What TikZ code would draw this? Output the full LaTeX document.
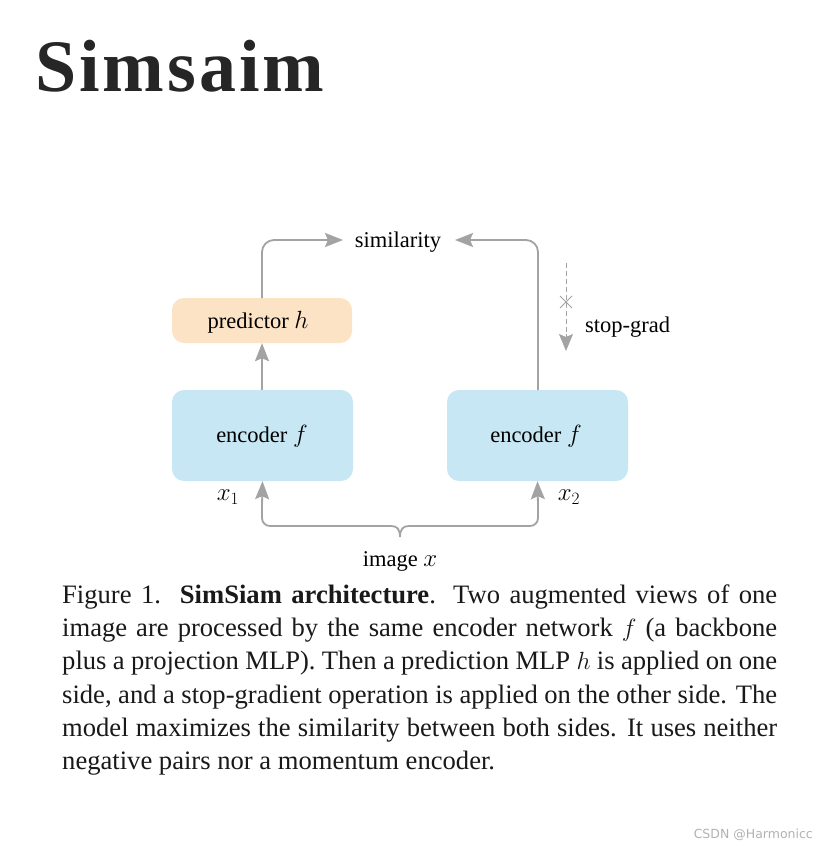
\documentclass[tikz,border=0pt]{standalone}
\usepackage{fontspec}
\setmainfont{Liberation Serif}
\newfontfamily\wmfont{DejaVu Sans}
\usetikzlibrary{arrows.meta}
\definecolor{boxblue}{HTML}{C6E7F3}
\definecolor{boxorange}{HTML}{FCE3C6}
\definecolor{linegray}{HTML}{A3A3A3}
\definecolor{titlegray}{HTML}{262626}
\newcommand\lblmath[1]{{\fontsize{26}{28}\selectfont$#1$}}
\tikzset{
  box/.style={rounded corners=12pt, draw=none, inner sep=0pt},
  lbl/.style={font=\fontsize{22.5}{26}\selectfont, text=black, inner sep=0pt},
  conn/.style={draw=linegray, line width=1.8pt},
  arr/.style={conn, -{Stealth[length=18pt,width=14pt,inset=3pt]}},
  capline/.style={anchor=base west, inner sep=0pt, font=\fontsize{26.6}{33}\selectfont, text=black!90}
}
\begin{document}
\begin{tikzpicture}[x=1pt,y=-1pt]
\useasboundingbox (0,0) rectangle (834,848);
\fill[white] (0,0) rectangle (834,848);
% title
\node[anchor=base west, inner sep=0pt, text=titlegray, font=\fontsize{74}{80}\selectfont\bfseries\addfontfeatures{LetterSpace=4}] (title) at (35,92) {Simsaim};
% boxes
\node[box, fill=boxorange, minimum width=180pt, minimum height=45pt] (pred) at (262,320.5) {};
\node[lbl, anchor=base] at (258,328) {predictor \lblmath{h}};
\node[box, fill=boxblue, minimum width=181pt, minimum height=91pt] (enc1) at (262.5,435.5) {};
\node[lbl, anchor=base] at (262,442) {encoder \lblmath{f}};
\node[box, fill=boxblue, minimum width=181pt, minimum height=91pt] (enc2) at (537.5,435.5) {};
\node[lbl, anchor=base] at (536,442) {encoder \lblmath{f}};
% similarity
\node[lbl, anchor=base] (sim) at (398,247) {similarity};
\coordinate (lcorner) at (262,240);
\coordinate (rcorner) at (538,240);
\draw[arr, rounded corners=12pt] (262,298) -- (lcorner) -- (343,240);
\draw[arr, rounded corners=12pt] (538,390) -- (rcorner) -- (455,240);
% encoder1 -> predictor
\draw[arr] (262,390) -- (pred.south);
% stop-grad
\coordinate (sgtop) at (566,263);
\coordinate (sgbot) at (566,351);
\draw[linegray, line width=1pt, dash pattern=on 5pt off 3pt] (sgtop) -- (566,336);
\draw[linegray, line width=1pt, -{Stealth[length=17pt,width=14pt,inset=3pt]}] (566,334) -- (sgbot);
\draw[linegray, line width=1pt] (560,296) -- (572,308) (560,308) -- (572,296);
\node[lbl, anchor=base west] (sg) at (585,332) {stop-grad};
% inputs
\node[lbl] (x1) at (228,497) {\lblmath{x_1}};
\node[lbl] (x2) at (569,497) {\lblmath{x_2}};
\node[lbl, anchor=base] (img) at (400,566) {image \lblmath{x}};
\coordinate (bl) at (262,506);
\coordinate (br) at (538,506);
\coordinate (bc) at (400,537);
\draw[conn, rounded corners=8pt] (bl) -- (262,526) -- (392,526);
\draw[conn, rounded corners=8pt] (br) -- (538,526) -- (408,526);
\draw[conn] (391,526) .. controls (397,526) and (400,529) .. (bc)
  .. controls (400,529) and (403,526) .. (409,526);
\draw[arr] (bl) -- (enc1.south);
\draw[arr] (br) -- (enc2.south);
% caption
\node[capline] (c1) at (62,603) {\makebox[715pt][s]{Figure 1.\ \ \textbf{SimSiam architecture}. Two augmented views of one}};
\node[capline] (c2) at (62,636) {\makebox[715pt][s]{image are processed by the same encoder network $f$ (a backbone}};
\node[capline] (c3) at (62,669) {\makebox[715pt][s]{plus a projection MLP). Then a prediction MLP $h$ is applied on one}};
\node[capline] (c4) at (62,703) {\makebox[715pt][s]{side, and a stop-gradient operation is applied on the other side. The}};
\node[capline] (c5) at (62,736) {\makebox[715pt][s]{model maximizes the similarity between both sides. It uses neither}};
\node[capline] (c6) at (62,769) {negative pairs nor a momentum encoder.};
% watermark
\node[anchor=base east, inner sep=0pt, text=black!30, font=\wmfont\fontsize{12.5}{14}\selectfont] (wm) at (813,838) {CSDN @Harmonicc};
\end{tikzpicture}
\end{document}
